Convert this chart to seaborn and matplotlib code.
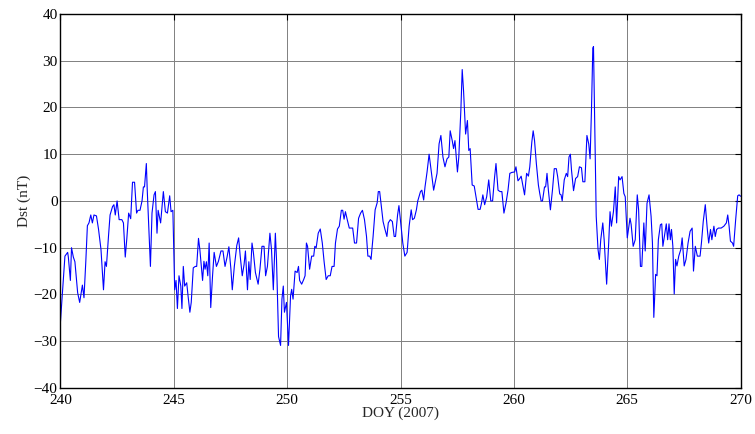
import numpy as np
import pandas as pd
import matplotlib
matplotlib.use("Agg")
import matplotlib.pyplot as plt
import seaborn as sns

# Dst index, DOY 240-270 of 2007
doy_a = [240.00, 240.20, 240.32, 240.35, 240.44, 240.49, 240.57, 240.64, 240.76, 240.85,
         240.97, 241.04, 241.12, 241.19, 241.26, 241.34, 241.41, 241.48, 241.59, 241.68,
         241.79, 241.90, 241.97, 242.03, 242.12, 242.19, 242.30, 242.36, 242.42, 242.50,
         242.59, 242.71, 242.78, 242.86, 242.93, 243.01, 243.10, 243.18, 243.27, 243.36,
         243.42, 243.51, 243.60, 243.66, 243.71, 243.79, 243.83, 243.89, 243.97, 244.04,
         244.13, 244.19, 244.26, 244.31, 244.42, 244.54, 244.63, 244.72, 244.82, 244.88,
         244.96]
dst_a = [-26, -11.8, -11, -12, -17, -10, -12, -13, -19.6, -21.7,
         -18, -20.7, -13, -5.3, -4.7, -3, -4.7, -3, -3.2, -6,
         -10.4, -19, -13, -14, -7.6, -3, -1.2, -0.8, -3, 0,
         -4, -4, -4.7, -12, -8, -2.6, -3.8, 4, 4, -2.6,
         -2, -2, 0, 3, 3, 8, 2.3, -4.7, -14, -2.6,
         1.3, 2, -6.9, -2, -4.7, 2, -2.3, -2.6, 1.1, -2.3,
         -2]

doy_b = [245.04, 245.10, 245.16, 245.23, 245.31, 245.36, 245.42, 245.48, 245.57, 245.63,
         245.71, 245.77, 245.86, 245.95, 246.01, 246.09, 246.15, 246.27, 246.33, 246.38,
         246.44, 246.50, 246.56, 246.63, 246.71, 246.78, 246.88, 246.97, 247.08, 247.17,
         247.26, 247.35, 247.43, 247.52, 247.58, 247.67, 247.78, 247.86, 247.93, 248.02,
         248.10, 248.16, 248.25, 248.31, 248.37, 248.45, 248.51, 248.60, 248.72, 248.80,
         248.89, 248.98, 249.05, 249.13, 249.24, 249.31, 249.39, 249.48, 249.53, 249.62,
         249.71, 249.77, 249.83, 249.88, 249.97]
dst_b = [-19, -17, -23, -16, -18.2, -23, -14, -18.2, -17.5, -20.3,
         -23.8, -21.7, -14.3, -14, -14, -8, -10.4, -17, -12.9, -14.6,
         -13, -16, -9, -22.8, -16, -11, -14, -12.9, -10.7, -10.7,
         -14, -12, -9.8, -14.6, -19, -14, -9.5, -7.9, -11.8, -16,
         -13.6, -10.7, -19, -13, -16.8, -9, -11, -15.3, -17.8, -14.6,
         -9.7, -9.7, -16, -14, -6.9, -10.4, -19, -6.9, -12.5, -29,
         -30.9, -21, -18.2, -23.8, -21.7]

doy_c = [250.06, 250.15, 250.20, 250.26, 250.35, 250.44, 250.50, 250.55, 250.64, 250.73,
         250.79, 250.85, 250.90, 250.99, 251.08, 251.17, 251.22, 251.28, 251.37, 251.46,
         251.55, 251.63, 251.72, 251.81, 251.90, 251.98, 252.07, 252.13, 252.22, 252.30,
         252.39, 252.45, 252.51, 252.57, 252.65, 252.74, 252.89, 252.97, 253.06, 253.15,
         253.24, 253.32, 253.41, 253.50, 253.56, 253.64, 253.70, 253.79, 253.88, 253.97,
         254.02, 254.08, 254.14, 254.23, 254.31, 254.40, 254.46, 254.55, 254.64, 254.72,
         254.78, 254.87, 254.93, 255.01]
dst_c = [-30.9, -20.3, -18.9, -21, -15, -15.3, -14, -17, -17.8, -16.8,
         -16, -9, -9.7, -14.6, -11.8, -11.8, -9.7, -10, -6.9, -6,
         -9, -13, -16.8, -16, -16, -14, -14, -9, -6, -5.4,
         -2, -2, -3.9, -2.3, -4, -5.8, -5.8, -9, -9, -3.7,
         -2.6, -2, -4, -7.6, -11.8, -11.8, -12.5, -7.6, -1.9, -0.4,
         2, 2, -0.5, -4.4, -6, -7.6, -4.7, -4, -4.4, -7.6,
         -7.6, -3, -1, -4.7]

doy_d = [255.10, 255.19, 255.29, 255.38, 255.47, 255.53, 255.61, 255.70, 255.76, 255.88,
         255.94, 256.02, 256.08, 256.17, 256.26, 256.35, 256.46, 256.52, 256.61, 256.70,
         256.78, 256.87, 256.96, 257.05, 257.13, 257.19, 257.28, 257.34, 257.40, 257.46,
         257.51, 257.57, 257.66, 257.72, 257.78, 257.87, 257.95, 258.01, 258.07, 258.16,
         258.25, 258.33, 258.42, 258.51, 258.57, 258.63, 258.71, 258.80, 258.89, 258.98,
         259.06, 259.15, 259.21, 259.30, 259.39, 259.47, 259.56, 259.65, 259.74, 259.82,
         259.91, 260.03, 260.09, 260.18]
dst_d = [-9, -11.8, -11, -5.4, -1.9, -4, -3.7, -1.9, 0, 2,
         2.3, 0.2, 3, 6.2, 10, 6.6, 2.3, 3.7, 5.9, 12.2,
         14, 9.4, 7.3, 9, 9.4, 15, 12.9, 11.2, 12.9, 9.4,
         6.2, 9.4, 19.3, 28.1, 23.5, 14.3, 17.2, 10.8, 11.2, 3.4,
         3.2, 0.9, -1.8, -1.8, -0.5, 1.3, -0.8, 0.9, 4.5, 0,
         0, 5.2, 8, 2.3, 2, 2, -2.6, -0.5, 2.3, 5.9,
         6.1, 6.2, 7.3, 4.3]

doy_e = [260.26, 260.32, 260.38, 260.47, 260.56, 260.64, 260.70, 260.79, 260.85, 260.91,
         260.99, 261.08, 261.14, 261.20, 261.26, 261.35, 261.40, 261.46, 261.52, 261.61,
         261.70, 261.78, 261.87, 261.93, 262.02, 262.08, 262.13, 262.22, 262.31, 262.37,
         262.43, 262.49, 262.54, 262.63, 262.72, 262.81, 262.89, 262.98, 263.04, 263.13,
         263.22, 263.30, 263.36, 263.42, 263.48, 263.51, 263.57, 263.63, 263.71, 263.77,
         263.83, 263.92, 263.98, 264.09, 264.18, 264.24, 264.30, 264.39, 264.47, 264.53,
         264.62, 264.68, 264.77, 264.85, 264.91, 265.00]
dst_e = [4.8, 5.3, 3.7, 1.3, 5.9, 5.3, 7.3, 12.6, 15, 12.9,
         8, 3.4, 1.6, 0, 0, 3, 3, 5.9, 2.3, -1.9,
         2.3, 6.9, 6.9, 5.2, 1.5, 1.3, 0, 4.5, 5.9, 5.2,
         9.4, 10, 6.6, 2.2, 4.8, 5.2, 7.3, 7.1, 4.1, 4.1,
         14, 12.2, 9, 19.3, 32.7, 33, 15, -3.3, -10.4, -12.5,
         -8.3, -4.7, -8.3, -17.8, -9, -2.3, -5.4, -2.3, 3, -4.7,
         5.2, 4.5, 5.2, 1.6, 0.9, -7.9]

doy_f = [265.12, 265.17, 265.26, 265.35, 265.44, 265.50, 265.58, 265.64, 265.73, 265.79,
         265.87, 265.96, 266.05, 266.11, 266.17, 266.25, 266.31, 266.37, 266.46, 266.52,
         266.57, 266.66, 266.72, 266.78, 266.84, 266.90, 266.95, 267.01, 267.07, 267.13,
         267.19, 267.27, 267.36, 267.42, 267.51, 267.59, 267.68, 267.77, 267.86, 267.92,
         268.00, 268.09, 268.21, 268.27, 268.35, 268.44, 268.53, 268.59, 268.67, 268.73,
         268.82, 268.88, 268.94, 269.02, 269.14, 269.26, 269.37, 269.43, 269.49, 269.55,
         269.64, 269.69, 269.78, 269.87, 269.93, 270.00]
dst_f = [-3.7, -5, -9.7, -8.3, 1.3, -1.9, -14, -14, -4.7, -10.7,
         -0.5, 1.3, -3.3, -9, -24.9, -15.7, -16, -8.3, -5.1, -4.9,
         -9.7, -6.9, -4.9, -8.3, -4.9, -8.3, -6.1, -9.7, -19.9, -12.5,
         -13.9, -11.8, -10.4, -7.9, -13.9, -12.5, -9, -6.5, -5.8, -15,
         -9.7, -11.8, -11.8, -9, -4.4, -0.8, -6.1, -9, -6.1, -8.3,
         -5.4, -7.6, -6.1, -5.8, -5.8, -5.4, -4.7, -3, -5.4, -8.6,
         -9, -9.7, -4, 1.1, 1.3, 1.0]

df = pd.DataFrame({
    "doy": doy_a + doy_b + doy_c + doy_d + doy_e + doy_f,
    "dst": dst_a + dst_b + dst_c + dst_d + dst_e + dst_f,
})

sns.set_style("white")
plt.rcParams["font.family"] = ["Liberation Serif", "DejaVu Serif"]

fig = plt.figure(figsize=(7.55, 4.34), dpi=100)
ax = fig.add_axes([0.080, 0.106, 0.901, 0.862])

sns.lineplot(data=df, x="doy", y="dst", sort=False, color="#0000ff",
             linewidth=0.8, ax=ax, estimator=None)

ax.set_xlim(240, 270)
ax.set_ylim(-40, 40)
ax.set_xticks(np.arange(240, 271, 5))
ax.set_yticks(np.arange(-40, 41, 10))
ax.grid(True, color="#808080", linewidth=0.7)
ax.tick_params(direction="in", top=True, right=True, length=4,
               labelsize=11, colors="black")
ax.tick_params(axis="x", pad=4)
ax.tick_params(axis="y", pad=2)
for s in ax.spines.values():
    s.set_color("black")
    s.set_linewidth(1.0)

ax.set_xlabel("DOY (2007)", fontsize=11, labelpad=0)
ax.set_ylabel("Dst (nT)", fontsize=11, labelpad=2)

fig.savefig("out.png", dpi=100)
